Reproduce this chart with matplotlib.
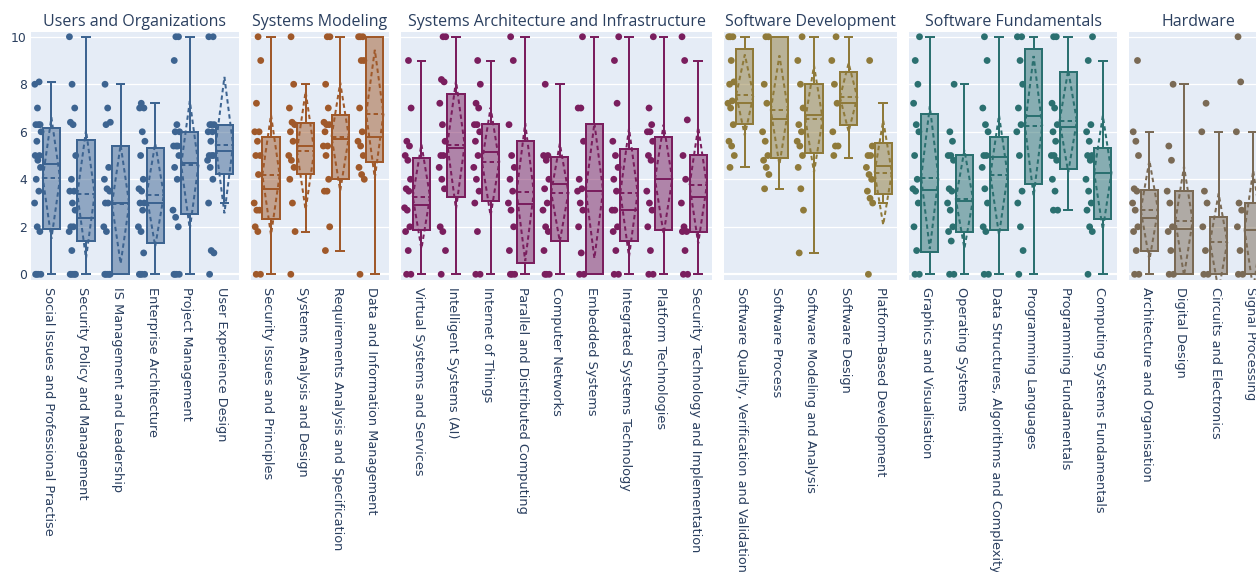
import matplotlib
matplotlib.use("Agg")
import matplotlib.pyplot as plt
from matplotlib.patches import Polygon

plt.rcParams['font.family'] = ['Open Sans', 'DejaVu Sans']

# ---------------- data ----------------
GROUPS = ["Users and Organizations", "Systems Modeling",
          "Systems Architecture and Infrastructure", "Software Development",
          "Software Fundamentals", "Hardware"]

CATS_USERS = ["Social Issues and Professional Practise", "Security Policy and Management",
              "IS Management and Leadership", "Enterprise Architecture",
              "Project Management", "User Experience Design"]
CATS_MODEL = ["Security Issues and Principles", "Systems Analysis and Design",
              "Requirements Analysis and Specification", "Data and Information Management"]
CATS_ARCH = ["Virtual Systems and Services", "Intelligent Systems (AI)", "Internet of Things",
             "Parallel and Distributed Computing", "Computer Networks", "Embedded Systems",
             "Integrated Systems Technology", "Platform Technologies",
             "Security Technology and Implementation"]
CATS_SWDEV = ["Software Quality, Verification and Validation", "Software Process",
              "Software Modeling and Analysis", "Software Design", "Platform-Based Development"]
CATS_SWFUND = ["Graphics and Visualisation", "Operating Systems",
               "Data Structures, Algorithms and Complexity", "Programming Languages",
               "Programming Fundamentals", "Computing Systems Fundamentals"]
CATS_HW = ["Architecture and Organisation", "Digital Design", "Circuits and Electronics",
           "Signal Processing"]

# box statistics, one entry per category in the order above
WHISK_LO = [0, 0, 0, 0, 0, 3.0,
            0, 1.8, 1.0, 0,
            0, 0, 0, 0, 0, 0, 0, 0, 0,
            4.5, 3.59, 0.91, 4.91, 3.02,
            0, 0, 0, 0, 2.7, 0,
            0, 0, 0, 0]
Q1 = [1.9, 1.39, 0, 1.33, 2.55, 4.24,
      2.33, 4.24, 4.03, 4.73,
      1.88, 3.24, 3.09, 0.46, 1.4, 0, 1.4, 1.87, 1.8,
      6.31, 4.88, 5.12, 6.28, 3.38,
      0.93, 1.8, 1.88, 3.8, 4.43, 2.34,
      1.0, 0, 0, 0]
MEDIAN = [4.65, 2.36, 3.02, 3.02, 4.7, 5.2,
          3.6, 5.41, 5.7, 5.79,
          2.92, 5.33, 5.15, 2.96, 3.8, 3.52, 2.71, 4.0, 3.25,
          7.2, 6.52, 6.7, 7.22, 4.56,
          3.55, 3.09, 4.95, 6.66, 6.2, 4.25,
          2.37, 1.89, 0, 1.87]
Q3 = [6.17, 5.67, 5.41, 5.32, 6.0, 6.3,
      5.8, 6.35, 6.72, 10,
      4.91, 7.6, 6.31, 5.61, 4.95, 6.31, 5.26, 5.8, 5.01,
      9.5, 10, 8.0, 8.53, 5.51,
      6.76, 5.01, 5.8, 9.5, 8.53, 5.32,
      3.56, 3.5, 2.41, 3.02]
WHISK_HI = [8.1, 10, 8, 7.2, 10, 6.3,
            10, 8, 10, 10,
            9, 10, 9, 10, 8, 10, 10, 10, 9,
            10, 10, 10, 10, 7.2,
            10, 8, 10, 10, 10, 9,
            6, 8, 6, 6]
MEAN = [4.05, 3.37, 2.95, 3.34, 4.6, 5.44,
        4.18, 5.2, 5.79, 6.75,
        3.27, 5.45, 4.74, 3.46, 3.44, 3.52, 3.44, 4.0, 3.75,
        7.55, 6.91, 6.54, 7.45, 4.28,
        4.07, 3.16, 4.18, 6.24, 6.45, 4.28,
        2.7, 2.24, 1.35, 1.87]
SD = [2.55, 2.7, 2.5, 2.17, 2.7, 2.87,
      2.53, 2.5, 2.28, 2.7,
      2.2, 2.7, 2.28, 2.9, 2.06, 2.85, 2.7, 2.3, 2.45,
      1.7, 2.3, 2.25, 1.44, 2.2,
      3.0, 2.07, 2.52, 2.95, 2.15, 2.4,
      2.1, 2.3, 2.05, 2.5]

# individual scores shown as points
PTS_USERS = [
    [0, 0, 0, 0, 1.8, 2, 3, 3.5, 4, 4.5, 4.8, 5, 5, 5.6, 6, 6.3, 6.3, 6.3, 7, 8, 8.1],
    [0, 0, 0, 0, 0, 1, 1.8, 2, 2, 2.7, 3, 3.5, 3.5, 4, 5, 6.3, 6.4, 7, 8, 10],
    [0, 0, 0, 0, 0, 1.8, 2, 3, 3, 3.5, 3.6, 4, 4.5, 6.3, 6.4, 7, 8],
    [0, 0, 0, 0, 0.9, 1.8, 2, 2.7, 3, 3, 3.5, 3.6, 4, 5, 5.6, 6, 7, 7, 7.2],
    [0, 0, 0, 0, 2, 2.4, 2.7, 4, 4.5, 5, 5.4, 5.4, 5.4, 6, 6, 6.3, 9, 10, 10],
    [0, 0.9, 1, 3, 4, 4.5, 4.8, 5, 5, 5, 5.6, 6, 6, 6.3, 6.3, 6.3, 10, 10],
]
PTS_MODEL = [
    [0, 0, 1.8, 2, 2.7, 2.7, 3, 4.2, 5, 5, 5.6, 6, 6, 7.2, 9, 10],
    [0, 1.8, 3, 4, 4.5, 4.8, 5, 5.6, 6, 6.3, 6.4, 7, 8, 10],
    [1, 2, 3.5, 3.5, 4, 5, 5.4, 5.4, 6, 6.3, 6.3, 6.4, 7, 8, 10, 10],
    [0, 4, 4.2, 4.5, 5, 5.4, 5.6, 6, 7, 9, 9, 10, 10, 10],
]
PTS_ARCH = [
    [0, 0, 1, 1.8, 2, 2.7, 2.8, 3.5, 3.6, 4, 4.8, 5, 5.4, 5.6, 7, 9],
    [0, 1, 1.8, 2, 3.6, 4, 4.5, 5, 5, 5.6, 6.3, 7.2, 8.1, 8.2, 10, 10],
    [0, 0, 1.8, 3, 3.5, 4, 4.5, 5, 5.6, 6, 6.3, 6.3, 7, 7.2, 8, 9],
    [0, 0, 0, 1, 2, 2.7, 3, 3.5, 4, 4.5, 5, 6.3, 9, 10],
    [0, 0, 0, 1, 1.8, 2, 2.7, 3, 3.6, 4, 4.8, 5, 5, 8],
    [0, 0, 0.9, 2, 2.7, 3, 3.5, 3.6, 4, 5.6, 7, 7, 10],
    [0, 0, 1, 1.8, 2, 2.7, 2.7, 3.5, 4, 4.5, 5, 5.6, 7.2, 9, 10],
    [0, 0, 1, 2, 2.7, 3, 3.5, 4.8, 5, 5.6, 6, 6, 6.3, 7, 10],
    [0, 0, 1, 1.8, 1.8, 2, 3, 4, 5, 6.5, 9, 10],
]
PTS_SWDEV = [
    [4.5, 5, 5.4, 5.6, 6.3, 7, 7.2, 7.3, 8, 8.1, 9, 10, 10, 10],
    [3.6, 4.2, 4.5, 4.8, 5, 5.6, 6, 7.2, 8, 10, 10],
    [0.9, 2.7, 3.6, 4.5, 5, 5.4, 5.6, 6, 6.3, 7, 8, 9, 10],
    [5, 5.4, 5.4, 6, 7.2, 8, 9, 10],
    [0, 3, 3.2, 3.5, 4, 4.2, 4.5, 5, 5, 5.4, 9],
]
PTS_SWFUND = [
    [0, 0, 1, 2, 3, 3.5, 3.6, 4, 5, 6, 6.3, 7.2, 8, 9, 10],
    [0, 0, 1.4, 1.8, 2, 2.7, 3, 3.5, 3.6, 4.8, 5, 5, 5.6, 6, 8],
    [0, 0, 1.8, 2, 3, 3.6, 4.5, 5, 5, 6, 6.3, 7, 9, 10],
    [0, 1, 2, 3, 3.5, 5, 6, 6.3, 7, 8, 9, 10, 10],
    [2.7, 2.7, 3.5, 4, 4.8, 5, 5, 5.6, 6, 6.3, 7, 7.2, 10, 10],
    [0, 1.8, 2, 2.7, 3, 3.5, 4, 4.8, 5, 5, 5.6, 6, 6.3, 9, 10],
]
PTS_HW = [
    [0, 0, 1, 1.8, 2, 2.7, 3, 3.5, 3.6, 5, 5.6, 6, 9],
    [0, 0, 1, 1.8, 2, 3, 3.5, 4.8, 5.4, 8],
    [0, 0, 1, 2, 3, 3.5, 6, 7.2],
    [0, 0, 1, 2, 2.7, 3, 6, 8.1, 10],
]

COLORS = ["#3D6491", "#A0592A", "#7A1E5E", "#8F7A3A", "#2B7070", "#7A6A55"]

CATS = [CATS_USERS, CATS_MODEL, CATS_ARCH, CATS_SWDEV, CATS_SWFUND, CATS_HW]
PTS = [PTS_USERS, PTS_MODEL, PTS_ARCH, PTS_SWDEV, PTS_SWFUND, PTS_HW]

# ---------------- layout ----------------
W, H = 1256, 572
fig = plt.figure(figsize=(W / 100, H / 100), dpi=100)
fig.patch.set_facecolor("white")

TXT = "#2a3f5f"
BG = "#E5ECF6"
TICKFONT = ["DejaVu Sans"]
cat_px = 34.6
gap_px = 12
left_px = 31
top_px, bot_px = 32, 280

box_off = 0.09
box_w = 0.5
pt_off = -0.30
lw = 1.44
dash = (0, (2.2, 1.6))

idx = 0
x0 = left_px
for g, (title, cats, pts, col) in enumerate(zip(GROUPS, CATS, PTS, COLORS)):
    n = len(cats)
    wpx = n * cat_px
    ax = fig.add_axes([x0 / W, 1 - bot_px / H, wpx / W, (bot_px - top_px) / H])
    ax.set_facecolor(BG)
    for s in ax.spines.values():
        s.set_visible(False)
    ax.set_xlim(-0.5, n - 0.5)
    ax.set_ylim(-0.24, 10.2)
    ax.set_axisbelow(True)
    for yv in [2, 4, 6, 8, 10]:
        ax.axhline(yv, color="white", lw=0.9, zorder=0)
    ax.axhline(0, color="white", lw=1.6, zorder=0)

    stats = []
    for i in range(n):
        k = idx + i
        stats.append(dict(whislo=WHISK_LO[k], q1=Q1[k], med=MEDIAN[k], q3=Q3[k],
                          whishi=WHISK_HI[k], fliers=[]))
    pos = [i + box_off for i in range(n)]
    ax.bxp(stats, positions=pos, widths=box_w, capwidths=0.22, patch_artist=True,
           showfliers=False, manage_ticks=False,
           boxprops=dict(facecolor=(matplotlib.colors.to_rgba(col, 0.5)), edgecolor=col, linewidth=lw),
           medianprops=dict(color=col, linewidth=lw),
           whiskerprops=dict(color=col, linewidth=lw),
           capprops=dict(color=col, linewidth=lw))

    for i in range(n):
        k = idx + i
        xc = pos[i]
        m, sd = MEAN[k], SD[k]
        ax.plot([xc - box_w / 2, xc + box_w / 2], [m, m], color=col, lw=lw, ls=dash, zorder=4)
        ax.add_patch(Polygon([[xc - box_w / 2, m], [xc, m + sd], [xc + box_w / 2, m], [xc, m - sd]],
                             closed=True, fill=False, edgecolor=col, lw=lw, ls=dash, zorder=4))
        vals = pts[i]
        xs = [i + pt_off + (((j * 0.6180339 + 0.31) % 1.0) - 0.5) * 0.2 for j in range(len(vals))]
        ax.scatter(xs, vals, s=24, color=col, edgecolors="none", zorder=5, clip_on=False)

    ax.set_xticks(range(n))
    ax.set_xticklabels(cats, rotation=-90, ha="center", va="top", fontsize=9.3, color=TXT,
                       family=TICKFONT)
    ax.tick_params(axis="x", length=0, pad=5)
    if g == 0:
        ax.set_yticks([0, 2, 4, 6, 8, 10])
        ax.set_yticklabels(["0", "2", "4", "6", "8", "10"], fontsize=8.9, color=TXT,
                           family=TICKFONT)
        ax.tick_params(axis="y", length=0, pad=3)
    else:
        ax.set_yticks([])

    fig.text((x0 + wpx / 2) / W, 1 - 22 / H, title, ha="center", va="center",
             fontsize=11.52, color=TXT)

    idx += n
    x0 += wpx + gap_px

fig.savefig("out.png", dpi=100, facecolor="white")
